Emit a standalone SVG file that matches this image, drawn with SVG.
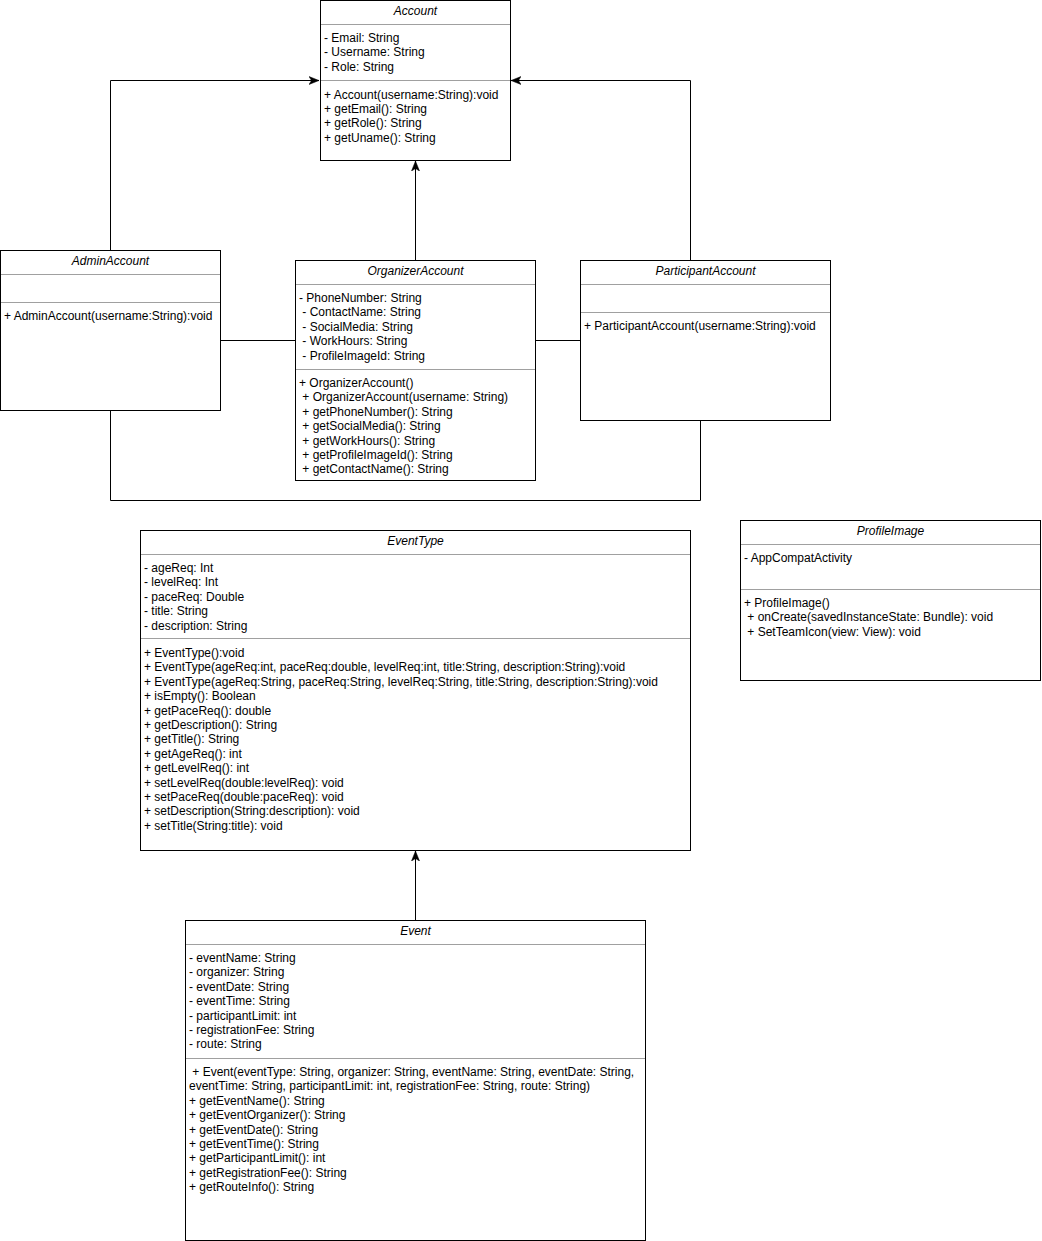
<svg xmlns="http://www.w3.org/2000/svg" width="1042" height="1241" viewBox="0 0 1042 1241">
<defs>
<style>
.box{fill:#fff;stroke:#000;stroke-width:1}
.sep{stroke:#a0a0a0;stroke-width:1}
.t{font-family:"Liberation Sans",Arial,Helvetica,sans-serif;font-size:12px;fill:#000}
.ti{font-family:"Liberation Sans",Arial,Helvetica,sans-serif;font-size:12px;font-style:italic;fill:#000;text-anchor:middle}
.c{fill:none;stroke:#000;stroke-width:1}
</style>
<marker id="arr" viewBox="0 0 10 10" refX="10" refY="5" markerWidth="10" markerHeight="10" markerUnits="userSpaceOnUse" orient="auto">
<path d="M10,5 L0,1 L2.5,5 L0,9 Z" fill="#000" stroke="#000" stroke-width="0.5"/>
</marker>
</defs>
<rect width="1042" height="1241" fill="#fff"/>

<g id="connectors">
<path class="c" d="M110.5,250 V80.5 H319" marker-end="url(#arr)"/>
<path class="c" d="M690.5,260 V80.5 H511" marker-end="url(#arr)"/>
<path class="c" d="M415.5,260 V161" marker-end="url(#arr)"/>
<path class="c" d="M220,340.5 H295"/>
<path class="c" d="M535,340.5 H580"/>
<path class="c" d="M110.5,410 V500.5 H700.5 V420"/>
<path class="c" d="M415.5,920 V851" marker-end="url(#arr)"/>
</g>

<g id="Account">
<rect class="box" x="320.5" y="0.5" width="190" height="160"/>
<line class="sep" x1="321" y1="24.5" x2="510" y2="24.5"/>
<line class="sep" x1="321" y1="80.5" x2="510" y2="80.5"/>
<text class="ti" x="415.5" y="15">Account</text>
<text class="t"><tspan x="324" y="42">- Email: String</tspan><tspan x="324" dy="14.4">- Username: String</tspan><tspan x="324" dy="14.4">- Role: String</tspan></text>
<text class="t"><tspan x="324" y="98.5">+ Account(username:String):void</tspan><tspan x="324" dy="14.4">+ getEmail(): String</tspan><tspan x="324" dy="14.4">+ getRole(): String</tspan><tspan x="324" dy="14.4">+ getUname(): String</tspan></text>
</g>

<g id="AdminAccount">
<rect class="box" x="0.5" y="250.5" width="220" height="160"/>
<line class="sep" x1="1" y1="274.5" x2="220" y2="274.5"/>
<line class="sep" x1="1" y1="302.5" x2="220" y2="302.5"/>
<text class="ti" x="110.5" y="264.5">AdminAccount</text>
<text class="t" x="4" y="320">+ AdminAccount(username:String):void</text>
</g>

<g id="OrganizerAccount">
<rect class="box" x="295.5" y="260.5" width="240" height="220"/>
<line class="sep" x1="296" y1="284.5" x2="535" y2="284.5"/>
<line class="sep" x1="296" y1="369.5" x2="535" y2="369.5"/>
<text class="ti" x="415.5" y="274.5">OrganizerAccount</text>
<text class="t"><tspan x="299" y="302">- PhoneNumber: String</tspan><tspan x="302.3" dy="14.4">- ContactName: String</tspan><tspan x="302.3" dy="14.4">- SocialMedia: String</tspan><tspan x="302.3" dy="14.4">- WorkHours: String</tspan><tspan x="302.3" dy="14.4">- ProfileImageId: String</tspan></text>
<text class="t"><tspan x="299" y="387">+ OrganizerAccount()</tspan><tspan x="302.3" dy="14.4">+ OrganizerAccount(username: String)</tspan><tspan x="302.3" dy="14.4">+ getPhoneNumber(): String</tspan><tspan x="302.3" dy="14.4">+ getSocialMedia(): String</tspan><tspan x="302.3" dy="14.4">+ getWorkHours(): String</tspan><tspan x="302.3" dy="14.4">+ getProfileImageId(): String</tspan><tspan x="302.3" dy="14.4">+ getContactName(): String</tspan></text>
</g>

<g id="ParticipantAccount">
<rect class="box" x="580.5" y="260.5" width="250" height="160"/>
<line class="sep" x1="581" y1="284.5" x2="830" y2="284.5"/>
<line class="sep" x1="581" y1="312.5" x2="830" y2="312.5"/>
<text class="ti" x="705.5" y="274.5">ParticipantAccount</text>
<text class="t" x="584" y="330">+ ParticipantAccount(username:String):void</text>
</g>

<g id="ProfileImage">
<rect class="box" x="740.5" y="520.5" width="300" height="160"/>
<line class="sep" x1="741" y1="544.5" x2="1040" y2="544.5"/>
<line class="sep" x1="741" y1="589.5" x2="1040" y2="589.5"/>
<text class="ti" x="890.5" y="534.5">ProfileImage</text>
<text class="t" x="744" y="562">- AppCompatActivity</text>
<text class="t"><tspan x="744" y="607">+ ProfileImage()</tspan><tspan x="747.3" dy="14.4">+ onCreate(savedInstanceState: Bundle): void</tspan><tspan x="747.3" dy="14.4">+ SetTeamIcon(view: View): void</tspan></text>
</g>

<g id="EventType">
<rect class="box" x="140.5" y="530.5" width="550" height="320"/>
<line class="sep" x1="141" y1="554.5" x2="690" y2="554.5"/>
<line class="sep" x1="141" y1="638.5" x2="690" y2="638.5"/>
<text class="ti" x="415.5" y="544.5">EventType</text>
<text class="t"><tspan x="144" y="572">- ageReq: Int</tspan><tspan x="144" dy="14.4">- levelReq: Int</tspan><tspan x="144" dy="14.4">- paceReq: Double</tspan><tspan x="144" dy="14.4">- title: String</tspan><tspan x="144" dy="14.4">- description: String</tspan></text>
<text class="t"><tspan x="144" y="657">+ EventType():void</tspan><tspan x="144" dy="14.4">+ EventType(ageReq:int, paceReq:double, levelReq:int, title:String, description:String):void</tspan><tspan x="144" dy="14.4">+ EventType(ageReq:String, paceReq:String, levelReq:String, title:String, description:String):void</tspan><tspan x="144" dy="14.4">+ isEmpty(): Boolean</tspan><tspan x="144" dy="14.4">+ getPaceReq(): double</tspan><tspan x="144" dy="14.4">+ getDescription(): String</tspan><tspan x="144" dy="14.4">+ getTitle(): String</tspan><tspan x="144" dy="14.4">+ getAgeReq(): int</tspan><tspan x="144" dy="14.4">+ getLevelReq(): int</tspan><tspan x="144" dy="14.4">+ setLevelReq(double:levelReq): void</tspan><tspan x="144" dy="14.4">+ setPaceReq(double:paceReq): void</tspan><tspan x="144" dy="14.4">+ setDescription(String:description): void</tspan><tspan x="144" dy="14.4">+ setTitle(String:title): void</tspan></text>
</g>

<g id="Event">
<rect class="box" x="185.5" y="920.5" width="460" height="320"/>
<line class="sep" x1="186" y1="944.5" x2="645" y2="944.5"/>
<line class="sep" x1="186" y1="1058.5" x2="645" y2="1058.5"/>
<text class="ti" x="415.5" y="934.5">Event</text>
<text class="t"><tspan x="189" y="962">- eventName: String</tspan><tspan x="189" dy="14.4">- organizer: String</tspan><tspan x="189" dy="14.4">- eventDate: String</tspan><tspan x="189" dy="14.4">- eventTime: String</tspan><tspan x="189" dy="14.4">- participantLimit: int</tspan><tspan x="189" dy="14.4">- registrationFee: String</tspan><tspan x="189" dy="14.4">- route: String</tspan></text>
<text class="t"><tspan x="192.3" y="1076">+ Event(eventType: String, organizer: String, eventName: String, eventDate: String,</tspan><tspan x="189" dy="14.4">eventTime: String, participantLimit: int, registrationFee: String, route: String)</tspan><tspan x="189" dy="14.4">+ getEventName(): String</tspan><tspan x="189" dy="14.4">+ getEventOrganizer(): String</tspan><tspan x="189" dy="14.4">+ getEventDate(): String</tspan><tspan x="189" dy="14.4">+ getEventTime(): String</tspan><tspan x="189" dy="14.4">+ getParticipantLimit(): int</tspan><tspan x="189" dy="14.4">+ getRegistrationFee(): String</tspan><tspan x="189" dy="14.4">+ getRouteInfo(): String</tspan></text>
</g>
</svg>
